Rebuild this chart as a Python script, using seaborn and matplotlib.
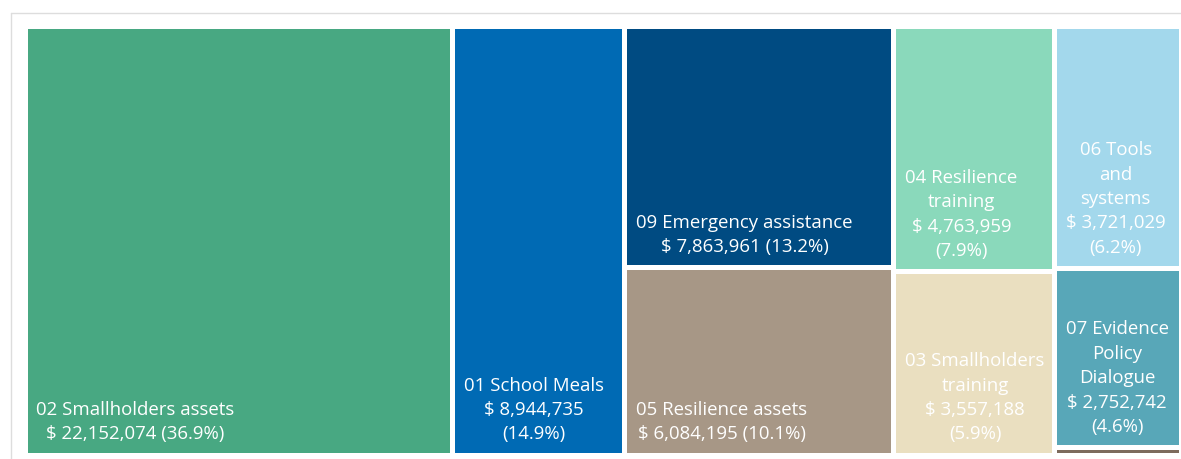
import matplotlib
matplotlib.use("Agg")
import matplotlib.pyplot as plt
import seaborn as sns
from matplotlib.lines import Line2D

# ---- data ----
categories = ["02 Smallholders assets", "01 School Meals", "09 Emergency assistance",
              "05 Resilience assets", "04 Resilience training", "03 Smallholders training",
              "06 Tools and systems", "07 Evidence Policy Dialogue", "Other"]
display_labels = ["02 Smallholders assets", "01 School Meals", "09 Emergency assistance",
                  "05 Resilience assets", "04 Resilience\ntraining", "03 Smallholders\ntraining",
                  "06 Tools\nand\nsystems", "07 Evidence\nPolicy\nDialogue", ""]
values = [22152074, 8944735, 7863961, 6084195, 4763959, 3557188, 3721029, 2752742, 110000]
percents = [36.9, 14.9, 13.2, 10.1, 7.9, 5.9, 6.2, 4.6, None]

# ---- style ----
colors = ["#48A882", "#006AB4", "#004B82", "#A79786", "#8AD9BB", "#EADFC0",
          "#A3D8EC", "#58A7B8", "#7D6B5D"]
columns = [[0], [1], [2, 3], [4, 5], [6, 7, 8]]

sns.set_theme(style="white")
plt.rcParams['font.family'] = ['Open Sans', 'DejaVu Sans']

W, H = 1181, 459
fig = plt.figure(figsize=(W / 100, H / 100), dpi=100)
fig.patch.set_facecolor("white")
left_px, right_px, top_px, bottom_px = 24.5, 1181.0, 25.5, 454.5
ax = fig.add_axes([left_px / W, 1 - bottom_px / H,
                   (right_px - left_px) / W, (bottom_px - top_px) / H])
ax.set_xlim(0, 1)
ax.set_ylim(1, 0)
ax.axis("off")

total = sum(values)
x0 = 0.0
for col in columns:
    colsum = sum(values[i] for i in col)
    w = colsum / total
    y0 = 0.0
    for i in col:
        h = values[i] / colsum
        ax.bar(x0, h, width=w, bottom=y0, align="edge", color=colors[i],
               edgecolor="white", linewidth=3.6)
        if percents[i] is not None:
            sep = " " if w > 0.2 else "\n"
            txt = f"{display_labels[i]}\n$ {values[i]:,}{sep}({percents[i]}%)"
            ax.annotate(txt, xy=(x0, y0 + h), xytext=(8.5, 8), textcoords="offset points",
                        ha="left", va="bottom", multialignment="center",
                        color="white", fontsize=13.4, linespacing=1.46)
        y0 += h
    x0 += w

# container border
fig.add_artist(Line2D([10.5 / W, 1], [1 - 12.5 / H, 1 - 12.5 / H], color="#dddddd", lw=1))
fig.add_artist(Line2D([10.5 / W, 10.5 / W], [0, 1 - 12.5 / H], color="#dddddd", lw=1))

fig.savefig("out.png", dpi=100)
